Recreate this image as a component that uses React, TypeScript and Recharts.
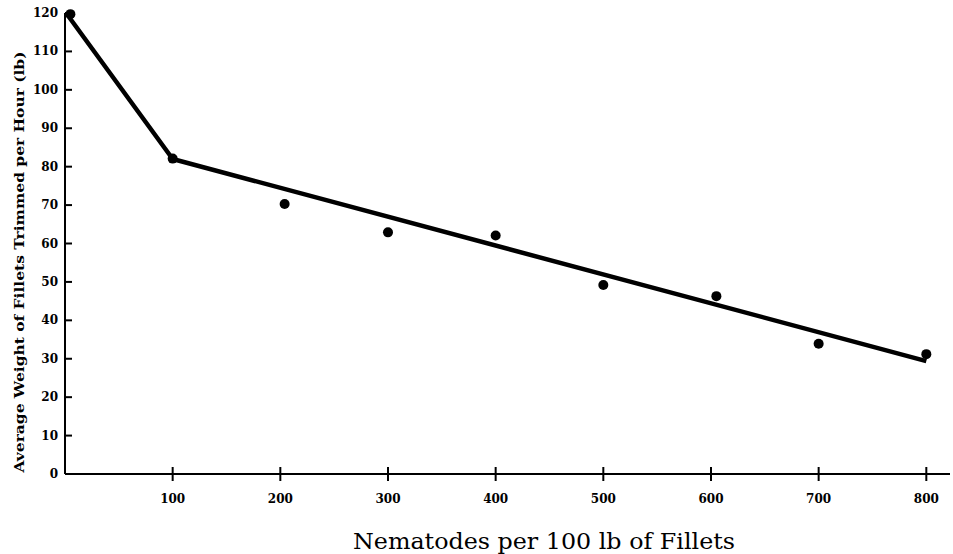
import { ComposedChart, Line, Scatter, XAxis, YAxis, Label } from "recharts";

// observed points (nematodes per 100 lb, lb trimmed per hour)
const pointX = [5, 100, 204, 300, 400, 500, 605, 700, 800];
const pointY = [119.7, 82.1, 70.3, 62.9, 62.1, 49.2, 46.3, 33.9, 31.2];

// fitted broken line
const fitX = [1, 100, 800];
const fitY = [120, 82, 29.4];

const xTicks = [100, 200, 300, 400, 500, 600, 700, 800];
const yTicks = [0, 10, 20, 30, 40, 50, 60, 70, 80, 90, 100, 110, 120];

const points = pointX.map((x, i) => ({ x, y: pointY[i] }));
const fit = fitX.map((x, i) => ({ x, y: fitY[i] }));

const tickFont = "'DejaVu Serif', serif";

function YTick(props: any) {
  const { x, y, payload } = props;
  return (
    <g>
      <line x1={x} x2={x + 7} y1={y} y2={y} stroke="#000" strokeWidth={2} />
      <text x={x - 7} y={y + 4} textAnchor="end" fontFamily={tickFont} fontWeight="bold" fontSize={12} fill="#000">
        {payload.value}
      </text>
    </g>
  );
}

function XTick(props: any) {
  const { x, y, payload } = props;
  return (
    <g>
      <line x1={x} x2={x} y1={y - 7} y2={y + 7} stroke="#000" strokeWidth={2} />
      <text x={x} y={y + 29} textAnchor="middle" fontFamily={tickFont} fontWeight="bold" fontSize={12} fill="#000">
        {payload.value}
      </text>
    </g>
  );
}

const Dot = (props: any) => <circle cx={props.cx} cy={props.cy} r={5} fill="#000" />;

export default function App() {
  return (
    <div style={{ position: "absolute", left: 0, top: 0, background: "#fff" }}>
      <ComposedChart width={953} height={554} margin={{ top: 13, right: 3, left: 0, bottom: 0 }}>
        <XAxis
          dataKey="x"
          type="number"
          domain={[0, 822]}
          ticks={xTicks}
          allowDataOverflow
          height={80}
          tickSize={0}
          tickMargin={0}
          tick={<XTick />}
          axisLine={{ stroke: "#000", strokeWidth: 2 }}
        >
          <Label
            content={() => (
              <text
                x={544}
                y={549}
                textAnchor="middle"
                fontFamily={tickFont}
                fontSize={22}
                textLength={382}
                lengthAdjust="spacingAndGlyphs"
                fill="#000"
              >
                Nematodes per 100 lb of Fillets
              </text>
            )}
          />
        </XAxis>
        <YAxis
          type="number"
          domain={[0, 120]}
          ticks={yTicks}
          width={65}
          tickSize={0}
          tickMargin={0}
          tick={<YTick />}
          axisLine={{ stroke: "#000", strokeWidth: 2 }}
        >
          <Label
            content={() => (
              <text
                x={24}
                y={262}
                transform="rotate(-90, 24, 262)"
                textAnchor="middle"
                fontFamily={tickFont}
                fontWeight="bold"
                fontSize={13}
                textLength={421}
                lengthAdjust="spacingAndGlyphs"
                fill="#000"
              >
                Average Weight of Fillets Trimmed per Hour (lb)
              </text>
            )}
          />
        </YAxis>
        <Line
          data={fit}
          dataKey="y"
          type="linear"
          stroke="#000"
          strokeWidth={4.5}
          strokeLinejoin="round"
          dot={false}
          activeDot={false}
          isAnimationActive={false}
        />
        <Scatter data={points} dataKey="y" shape={<Dot />} isAnimationActive={false} />
      </ComposedChart>
    </div>
  );
}
